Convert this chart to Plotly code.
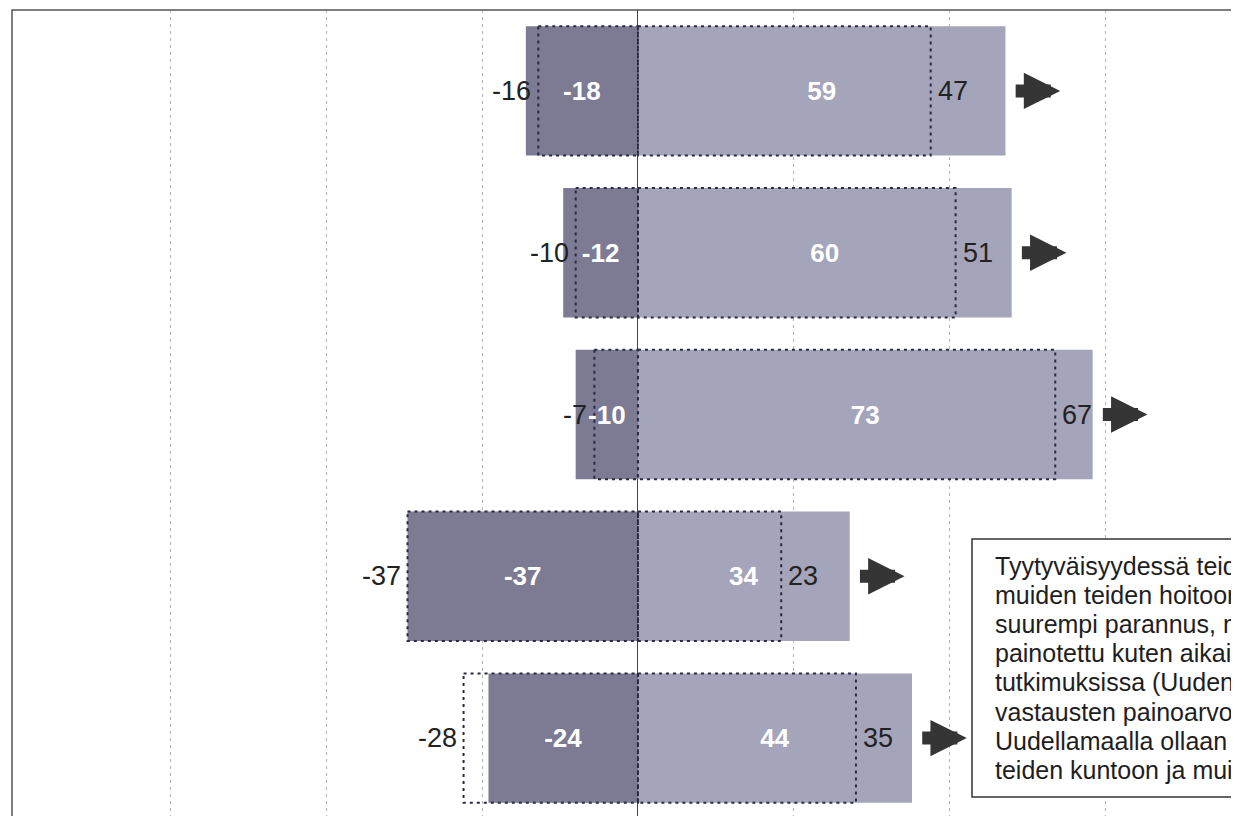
import plotly.graph_objects as go

# ---- data ----
rows = [0, 1, 2, 3, 4]
neg_now = [-18, -12, -10, -37, -24]
pos_now = [59, 60, 73, 34, 44]
neg_prev = [-16, -10, -7, -37, -28]
pos_prev = [47, 51, 67, 23, 35]
grid_ticks = [-75, -50, -25, 0, 25, 50, 75]

note_lines = [
    "Tyytyväisyydessä teiden",
    "muiden teiden hoitoon",
    "suurempi parannus, mutta",
    "painotettu kuten aikaisemmissa",
    "tutkimuksissa (Uudenmaan",
    "vastausten painoarvo",
    "Uudellamaalla ollaan",
    "teiden kuntoon ja muiden",
]

FONT = "Liberation Sans, Arial, sans-serif"
NEG_COL = "#7c7b93"
POS_COL = "#a4a4ba"
DOT_COL = "#2a2a44"
BAR_W = 0.8

# page geometry (browser adds an 8px body margin)
W, H = 1231, 808
PLOT_TOP_PX, PLOT_H_PX = 10, 806     # in page pixels
PLOT_LEFT_PX, PLOT_W_PX = 12, 1227
ROW_PX = 161.8                      # pixels per category step

def px_to_paper_x(px):
    return (px - PLOT_LEFT_PX) / PLOT_W_PX

def px_to_paper_y(py):
    return (PLOT_TOP_PX + PLOT_H_PX - py) / PLOT_H_PX

fig = go.Figure()

fig.add_trace(go.Bar(
    y=rows, x=neg_now, orientation="h", width=BAR_W,
    marker=dict(color=NEG_COL, line=dict(width=0)),
    text=[str(v) for v in neg_now], textposition="inside",
    insidetextanchor="middle", textangle=0,
    textfont=dict(family=FONT, size=26, color="white", weight="bold"),
    hoverinfo="skip", showlegend=False,
))
fig.add_trace(go.Bar(
    y=rows, x=pos_now, orientation="h", width=BAR_W,
    marker=dict(color=POS_COL, line=dict(width=0)),
    text=[str(v) for v in pos_now], textposition="inside",
    insidetextanchor="middle", textangle=0,
    textfont=dict(family=FONT, size=26, color="white", weight="bold"),
    hoverinfo="skip", showlegend=False,
))

# dotted outlines of the previous values
xs, ys = [], []
h = BAR_W / 2
for r, a, b in zip(rows, neg_prev, pos_prev):
    for x0, x1 in ((a, 0), (0, b)):
        xs += [x0, x1, x1, x0, x0, None]
        ys += [r - h, r - h, r + h, r + h, r - h, None]
fig.add_trace(go.Scatter(
    x=xs, y=ys, mode="lines",
    line=dict(color=DOT_COL, width=2, dash="3px,4px"),
    hoverinfo="skip", showlegend=False,
))

annotations = []
for r, a, b, p in zip(rows, neg_prev, pos_prev, pos_now):
    annotations.append(dict(
        x=a, y=r, xref="x", yref="y", text=str(a), showarrow=False,
        xanchor="right", xshift=-5, font=dict(family=FONT, size=27, color="#222222")))
    annotations.append(dict(
        x=b, y=r, xref="x", yref="y", text=str(b), showarrow=False,
        xanchor="left", xshift=5, font=dict(family=FONT, size=27, color="#222222")))
    # trend arrow after the bar
    annotations.append(dict(
        x=p + 8.8, y=r, ax=p + 1.4, ay=r, xref="x", yref="y", axref="x", ayref="y",
        text="", showarrow=True, arrowhead=2, arrowsize=0.56, arrowwidth=13,
        arrowcolor="#353535", standoff=0, startstandoff=0))

# note text, one annotation per line for tight line spacing
for k, line in enumerate(note_lines):
    annotations.append(dict(
        x=px_to_paper_x(993), y=px_to_paper_y(566 + 29.1 * k),
        xref="paper", yref="paper", xanchor="left", yanchor="middle",
        align="left", showarrow=False, text=line,
        font=dict(family=FONT, size=25, color="#1e1e1e")))

shapes = [
    # plot frame (right/bottom edges fall outside the picture)
    dict(type="rect", xref="paper", yref="paper", x0=0, x1=1.05, y0=-0.05, y1=1,
         line=dict(color="#555555", width=1.5), fillcolor="rgba(0,0,0,0)", layer="above"),
    # note box
    dict(type="rect", xref="paper", yref="paper",
         x0=px_to_paper_x(972), x1=1.1, y0=px_to_paper_y(797), y1=px_to_paper_y(539),
         line=dict(color="#333333", width=1.5), fillcolor="white", layer="above"),
]

fig.update_layout(
    width=W, height=H,
    margin=dict(l=PLOT_LEFT_PX - 8, r=0, t=PLOT_TOP_PX - 8, b=0),
    paper_bgcolor="white", plot_bgcolor="white",
    barmode="overlay", showlegend=False,
    annotations=annotations, shapes=shapes,
    xaxis=dict(range=[-100.5, 96.5], tickvals=grid_ticks, showticklabels=False,
               showgrid=True, gridcolor="#b5b5b5", gridwidth=1, griddash="3px,4px",
               zeroline=True, zerolinecolor="#444444", zerolinewidth=1,
               showline=False, ticks=""),
    yaxis=dict(range=[-0.5 + PLOT_H_PX / ROW_PX, -0.5], showgrid=False, zeroline=False,
               showticklabels=False, ticks="", showline=False),
    font=dict(family=FONT),
)

fig.write_html("out.html")
